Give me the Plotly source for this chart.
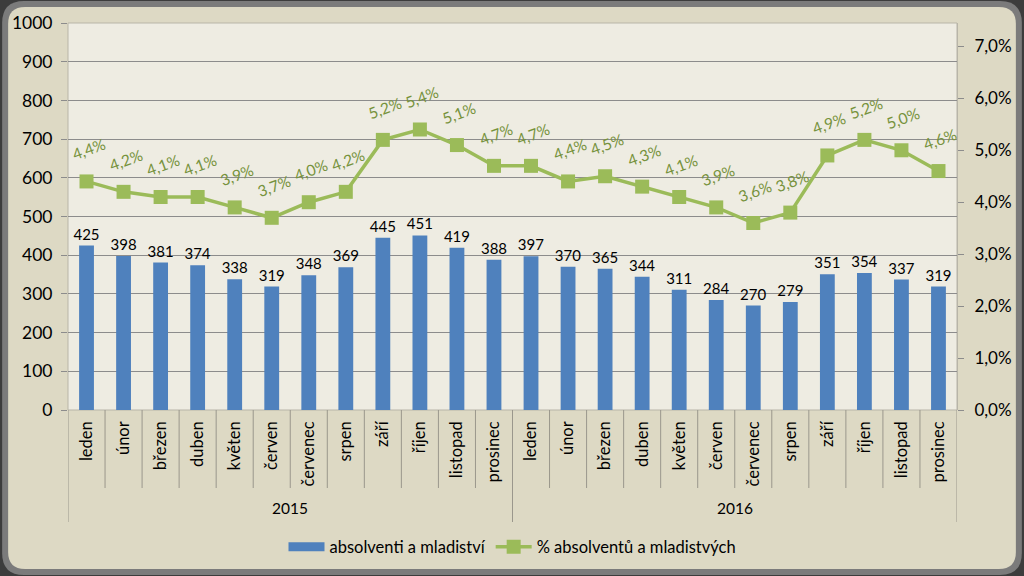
import plotly.graph_objects as go

years = ["2015", "2016"]
months = ["leden", "únor", "březen", "duben", "květen", "červen", "červenec",
          "srpen", "září", "říjen", "listopad", "prosinec"]
absolventi_2015 = [425, 398, 381, 374, 338, 319, 348, 369, 445, 451, 419, 388]
absolventi_2016 = [397, 370, 365, 344, 311, 284, 270, 279, 351, 354, 337, 319]
podil_2015 = [4.4, 4.2, 4.1, 4.1, 3.9, 3.7, 4.0, 4.2, 5.2, 5.4, 5.1, 4.7]
podil_2016 = [4.7, 4.4, 4.5, 4.3, 4.1, 3.9, 3.6, 3.8, 4.9, 5.2, 5.0, 4.6]
left_ticks = [0, 100, 200, 300, 400, 500, 600, 700, 800, 900, 1000]
right_ticks = [0, 1, 2, 3, 4, 5, 6, 7]

ids = [f"{y}-{m}" for y in years for m in months]
labels = months * len(years)
values = absolventi_2015 + absolventi_2016
pct = podil_2015 + podil_2016


def cz(v):
    return f"{v:.1f}".replace(".", ",") + "%"


FONT = "Lato, Carlito, Calibri, sans-serif"
W, H = 1024, 576
L, R, T, B = 67, 66, 23, 166
PW, PH = W - L - R, H - T - B


def X(px):
    return (px - L) / PW


def Y(py):
    return (H - B - py) / PH


def rounded(x0, y0, x1, y1, r):
    pts = [
        f"M {X(x0 + r)},{Y(y0)}",
        f"L {X(x1 - r)},{Y(y0)}",
        f"Q {X(x1)},{Y(y0)} {X(x1)},{Y(y0 + r)}",
        f"L {X(x1)},{Y(y1 - r)}",
        f"Q {X(x1)},{Y(y1)} {X(x1 - r)},{Y(y1)}",
        f"L {X(x0 + r)},{Y(y1)}",
        f"Q {X(x0)},{Y(y1)} {X(x0)},{Y(y1 - r)}",
        f"L {X(x0)},{Y(y0 + r)}",
        f"Q {X(x0)},{Y(y0)} {X(x0 + r)},{Y(y0)}",
        "Z",
    ]
    return " ".join(pts)


fig = go.Figure()
fig.add_trace(go.Bar(
    x=ids, y=values, name="absolventi a mladiství", showlegend=False,
    marker=dict(color="#4f81bd", line=dict(width=0)),
    text=[str(v) for v in values], textposition="outside",
    constraintext="none",
    textfont=dict(family=FONT, size=15, color="#000000"),
    outsidetextfont=dict(family=FONT, size=15, color="#000000"),
    cliponaxis=False,
))
# legend swatch for the bars (wide rectangle like the original)
fig.add_trace(go.Scatter(
    x=[None], y=[None], name="absolventi a mladiství", mode="lines",
    line=dict(color="#4f81bd", width=9),
))
fig.add_trace(go.Scatter(
    x=ids, y=pct, name="% absolventů a mladistvých", yaxis="y2",
    mode="lines+markers",
    line=dict(color="#9bbb59", width=3.5),
    marker=dict(symbol="square", size=14, color="#9bbb59"),
    cliponaxis=False,
))

annotations = []
for cid, p in zip(ids, pct):
    annotations.append(dict(
        x=cid, y=p, xref="x", yref="y2", yshift=32, xshift=2,
        text=cz(p), showarrow=False,
        textangle=-20, font=dict(family=FONT, size=15.5, color="#76923c"),
    ))
for k, yr in enumerate(years):
    annotations.append(dict(
        x=k * 12 + 5.5, y=Y(508), xref="x", yref="paper", text=yr,
        xanchor="center", yanchor="middle",
        showarrow=False, font=dict(family=FONT, size=15.5, color="#000000"),
    ))

shapes = [
    dict(type="path", path=rounded(1, 1, 1023, 575, 22), xref="paper", yref="paper",
         fillcolor="#7b7b7b", line=dict(width=0), layer="below"),
    dict(type="path", path=rounded(7, 7, 1017, 569, 17), xref="paper", yref="paper",
         fillcolor="#ddd9c4", line=dict(width=0), layer="below"),
    dict(type="rect", x0=0, x1=1, y0=0, y1=1, xref="paper", yref="paper",
         fillcolor="#eeece2", line=dict(color="#b8b5a8", width=1), layer="below"),
]
n = len(ids)
for i in range(n + 1):
    big = (i % 12 == 0)
    shapes.append(dict(
        type="line", xref="x", yref="paper", x0=i - 0.5, x1=i - 0.5,
        y0=0, y1=Y(522) if big else Y(488),
        line=dict(color="#9a978c", width=1), layer="above",
    ))

fig.update_layout(
    width=W, height=H,
    margin=dict(l=L, r=R, t=T, b=B),
    paper_bgcolor="#3c3c3c", plot_bgcolor="rgba(0,0,0,0)",
    font=dict(family=FONT, size=15, color="#000000"),
    bargap=0.6,
    showlegend=True,
    legend=dict(orientation="h", x=0.5, xanchor="center", y=Y(547), yanchor="middle",
                font=dict(family=FONT, size=16.5, color="#000000"),
                bgcolor="rgba(0,0,0,0)", itemwidth=36, tracegroupgap=0),
    xaxis=dict(type="category", categoryorder="array", categoryarray=ids,
               tickmode="array", tickvals=ids, ticktext=labels,
               tickangle=-90, ticks="", showgrid=False, zeroline=False,
               range=[-0.5, n - 0.5], showline=False, ticklabelstandoff=7,
               tickfont=dict(family=FONT, size=16.5, color="#000000")),
    yaxis=dict(range=[0, 1000], tickmode="array", tickvals=left_ticks,
               showgrid=True, gridcolor="#8c8c8c", gridwidth=1,
               ticks="outside", ticklen=6, tickcolor="#8c8c8c",
               zeroline=False, showline=False, ticklabelstandoff=5,
               tickfont=dict(family=FONT, size=17.5, color="#000000")),
    yaxis2=dict(range=[0, 7.45], overlaying="y", side="right",
                tickmode="array", tickvals=right_ticks,
                ticktext=[cz(v) for v in right_ticks],
                showgrid=False, zeroline=False,
                ticks="outside", ticklen=6, tickcolor="#8c8c8c",
                showline=True, linecolor="#b8b5a8", ticklabelstandoff=7,
                tickfont=dict(family=FONT, size=17, color="#000000")),
    separators=", ",
    annotations=annotations,
    shapes=shapes,
)

fig.write_html("out.html", config={"displayModeBar": False},
               post_script="document.body.style.margin='0';")
